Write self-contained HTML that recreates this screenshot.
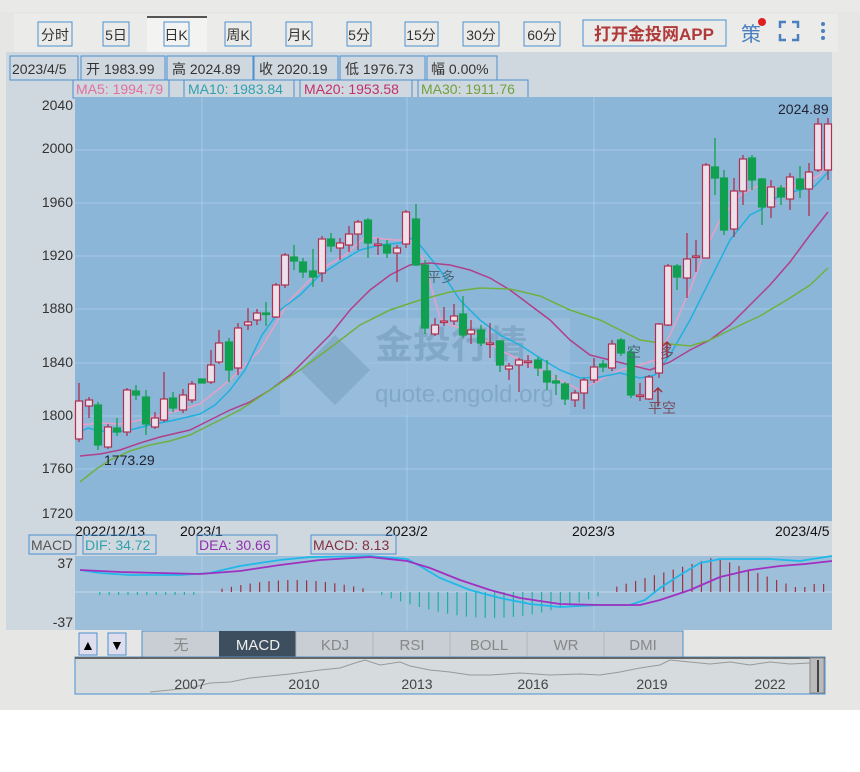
<!DOCTYPE html>
<html><head><meta charset="utf-8"><style>
body{margin:0;width:860px;height:767px;background:#fff;overflow:hidden;font-family:"Liberation Sans","Noto Sans CJK SC",sans-serif}
svg text{font-family:"Liberation Sans","Noto Sans CJK SC",sans-serif}
</style></head><body>
<svg id="s" width="860" height="767" xmlns="http://www.w3.org/2000/svg">
<rect width="860" height="710" fill="#e6e6e4"/>
<rect x="0" y="0" width="860" height="12" fill="#e9e9e7"/>
<rect x="14" y="14" width="824" height="38" fill="#ebebe9"/>
<rect x="147" y="17" width="60" height="35" fill="#f3f3f1"/>
<rect x="147" y="16" width="60" height="2" fill="#555"/>
<g font-size="14" fill="#333" text-anchor="middle" stroke-width="1">
<g fill="none" stroke="#4a90d0">
<rect x="38" y="22" width="34" height="24"/><rect x="103" y="22" width="26" height="24"/>
<rect x="164" y="22" width="25" height="24"/><rect x="225" y="22" width="26" height="24"/>
<rect x="286" y="22" width="26" height="24"/><rect x="347" y="22" width="24" height="24"/>
<rect x="405" y="22" width="33" height="24"/><rect x="463" y="22" width="36" height="24"/>
<rect x="524" y="22" width="36" height="24"/><rect x="583" y="20" width="143" height="26"/>
</g>
<text x="55" y="40">分时</text><text x="116" y="40">5日</text><text x="176" y="40">日K</text>
<text x="238" y="40">周K</text><text x="299" y="40">月K</text><text x="359" y="40">5分</text>
<text x="421" y="40">15分</text><text x="481" y="40">30分</text><text x="542" y="40">60分</text>
<text x="654" y="40" font-size="17" font-weight="bold" fill="#b03a3a">打开金投网APP</text>
<text x="751" y="41" font-size="20" fill="#4a80c0">策</text>
</g>
<circle cx="762" cy="22" r="4" fill="#e02020"/>
<g stroke="#4a80c0" stroke-width="2.5" fill="none">
<path d="M780 28v-6h6M792 22h6v6M798 34v6h-6M786 40h-6v-6"/></g>
<g fill="#4a80c0"><circle cx="823" cy="24" r="2"/><circle cx="823" cy="31" r="2"/><circle cx="823" cy="38" r="2"/></g>

<rect x="6" y="52" width="826" height="578" fill="#d0d8df"/>
<g font-size="14" fill="#333">
<g fill="none" stroke="#4a90d0">
<rect x="10" y="56" width="68" height="24"/><rect x="81" y="56" width="84" height="24"/>
<rect x="167" y="56" width="86" height="24"/><rect x="254" y="56" width="84" height="24"/>
<rect x="340" y="56" width="85" height="24"/><rect x="427" y="56" width="70" height="24"/>
<rect x="73" y="80" width="96" height="18"/><rect x="184" y="80" width="110" height="18"/>
<rect x="300" y="80" width="112" height="18"/><rect x="418" y="80" width="110" height="18"/>
</g>
<text x="12" y="74">2023/4/5</text><text x="86" y="74">开 1983.99</text><text x="172" y="74">高 2024.89</text>
<text x="259" y="74">收 2020.19</text><text x="345" y="74">低 1976.73</text><text x="431" y="74">幅 0.00%</text>
<text x="76" y="94" fill="#e070a0">MA5: 1994.79</text><text x="188" y="94" fill="#30a0b0">MA10: 1983.84</text>
<text x="304" y="94" fill="#c03070">MA20: 1953.58</text><text x="421" y="94" fill="#70a040">MA30: 1911.76</text>
</g>
<rect x="75" y="97" width="757" height="424" fill="#8cb6d8"/>
<g id="grid" stroke="#a8c8e4" stroke-width="1"></g>
<rect x="280" y="318" width="290" height="97" fill="#9cc0de" opacity="0.7"/>
<text x="375" y="358" font-size="38" fill="#82a8c8" font-weight="bold">金投行情</text>
<text x="375" y="402" font-size="24" fill="#82a8c8">quote.cngold.org</text>
<path d="M300 370l35-35 35 35-35 35z" fill="#7aa0c0" opacity="0.6"/>
<g id="ma" fill="none" stroke-width="1.5"></g>
<g id="cd"></g>
<g font-size="14" fill="#333" text-anchor="end">
<text x="73" y="110">2040</text><text x="73" y="153">2000</text><text x="73" y="207">1960</text>
<text x="73" y="260">1920</text><text x="73" y="313">1880</text><text x="73" y="367">1840</text>
<text x="73" y="420">1800</text><text x="73" y="473">1760</text><text x="73" y="518">1720</text>
</g>
<text x="104" y="465" font-size="14" fill="#223">1773.29</text>
<text x="778" y="114" font-size="14" fill="#223">2024.89</text>
<g font-size="14" fill="#7a5060"><text x="427" y="282" fill="#4a6a7a">平多</text><text x="627" y="357" fill="#4a6a7a">空</text><text x="660" y="358">多</text><text x="648" y="413">平空</text></g>
<g stroke="#a03040" stroke-width="1.5" fill="none"><path d="M658 406v-18M654 392l4-4 4 4M667 357v-15M663 346l4-4 4 4"/></g>
<g font-size="14" fill="#111" font-weight="normal">
<text x="75" y="536">2022/12/13</text><text x="180" y="536">2023/1</text><text x="385" y="536">2023/2</text>
<text x="572" y="536">2023/3</text><text x="775" y="536">2023/4/5</text></g>
<g font-size="14"><g fill="none" stroke="#4a90d0"><rect x="29" y="535" width="47" height="19"/><rect x="83" y="535" width="73" height="19"/><rect x="197" y="535" width="80" height="19"/><rect x="311" y="535" width="85" height="19"/></g>
<text x="31" y="550" fill="#555">MACD</text><text x="85" y="550" fill="#30a0b0">DIF: 34.72</text><text x="199" y="550" fill="#9030b0">DEA: 30.66</text><text x="313" y="550" fill="#803040">MACD: 8.13</text></g>
<rect x="75" y="556" width="757" height="74" fill="#9ebfda"/>
<line x1="75" y1="592" x2="832" y2="592" stroke="#c0d6e8"/>
<line x1="202" y1="556" x2="202" y2="630" stroke="#b0cce4"/><line x1="407" y1="556" x2="407" y2="630" stroke="#b0cce4"/><line x1="594" y1="556" x2="594" y2="630" stroke="#b0cce4"/>
<g id="hist"></g>
<g font-size="14" fill="#333" text-anchor="end"><text x="73" y="568">37</text><text x="73" y="627">-37</text></g>
<polyline fill="none" stroke="#20b8e8" stroke-width="1.8" points="80,570 100,573 130,575 180,575 210,573 240,566 280,560 310,557 370,556 407,559 420,566 440,578 470,590 500,598 530,604 560,607 600,605 630,605 645,600 660,588 680,575 700,563 720,559 770,559 800,561 832,556"/>
<polyline fill="none" stroke="#a030c0" stroke-width="1.8" points="80,570 120,572 160,573 200,574 240,571 280,565 320,560 370,557 407,561 430,568 460,580 490,590 520,598 560,604 600,605 640,605 660,600 690,590 720,577 750,570 780,566 805,564 832,561"/>
<rect x="0" y="630" width="860" height="80" fill="#e6e6e4"/>
<rect x="79" y="633" width="18" height="22" fill="#dde" stroke="#4a90d0"/><text x="81" y="650" font-size="14">▲</text>
<rect x="108" y="633" width="18" height="22" fill="#dde" stroke="#4a90d0"/><text x="110" y="650" font-size="14">▼</text>
<rect x="142" y="631" width="541" height="26" fill="#c8ced3" stroke="#4a90d0"/>
<rect x="219" y="631" width="77" height="26" fill="#3d4e5e"/>
<g stroke="#b0b8be"><line x1="296" y1="631" x2="296" y2="657"/><line x1="373" y1="631" x2="373" y2="657"/><line x1="450" y1="631" x2="450" y2="657"/><line x1="527" y1="631" x2="527" y2="657"/><line x1="604" y1="631" x2="604" y2="657"/></g>
<g font-size="15" fill="#888" text-anchor="middle"><text x="181" y="650">无</text><text x="258" y="650" fill="#eee">MACD</text><text x="335" y="650">KDJ</text><text x="412" y="650">RSI</text><text x="489" y="650">BOLL</text><text x="566" y="650">WR</text><text x="643" y="650">DMI</text></g>
<rect x="75" y="657" width="750" height="37" fill="#d6dbde" stroke="#4a90d0"/>
<line x1="75" y1="658" x2="825" y2="658" stroke="#666" stroke-width="2"/>
<polyline fill="none" stroke="#999" points="150,692 170,690 190,688 210,683 230,682 250,678 270,676 290,674 320,670 340,668 355,663 365,660 380,665 400,662 410,666 430,670 450,672 470,675 490,675 520,673 550,675 580,674 600,675 620,672 640,668 660,665 670,660 690,662 710,664 730,662 750,665 770,662 790,664 810,663"/>
<rect x="810" y="658" width="14" height="35" fill="#bbb" stroke="#888"/><line x1="818" y1="660" x2="818" y2="692" stroke="#444" stroke-width="2"/>
<g font-size="14" fill="#444" text-anchor="middle"><text x="190" y="689">2007</text><text x="304" y="689">2010</text><text x="417" y="689">2013</text><text x="533" y="689">2016</text><text x="652" y="689">2019</text><text x="770" y="689">2022</text></g>
</svg>
<script>
var N="http://www.w3.org/2000/svg";
function el(p,t,a){var e=document.createElementNS(N,t);for(var k in a)e.setAttribute(k,a[k]);document.getElementById(p).appendChild(e);}
[150,203,256,309,363,416,469].forEach(function(y){el("grid","line",{x1:75,x2:832,y1:y,y2:y});});
[202,407,594].forEach(function(x){el("grid","line",{x1:x,x2:x,y1:97,y2:521});});
// x, o, c, h, l  (pixel y); up if c<o
var C=[[79,439,401,383,442],[89,406,400,397,418],[98,405,445,402,450],[108,447,427,424,449],[117,428,432,418,436],[127,432,390,388,436],[136,391,395,385,400],[146,397,424,390,435],[155,427,418,412,429],[164,420,399,372,422],[173,398,408,392,412],[183,410,395,389,413],[192,400,384,381,403],[202,379,383,379,383],[211,382,365,350,384],[219,362,343,330,364],[229,342,370,338,382],[238,368,328,323,375],[248,325,322,308,330],[257,320,313,309,325],[266,313,314,302,326],[276,317,285,283,318],[285,285,255,253,288],[294,257,261,245,270],[303,262,272,258,278],[313,271,277,249,287],[322,273,239,236,282],[331,239,246,233,252],[340,248,243,238,260],[349,245,234,226,252],[358,234,222,220,250],[368,220,243,218,258],[378,244,244,238,255],[387,245,253,240,258],[397,253,248,245,282],[406,244,212,210,248],[416,219,265,204,266],[425,265,328,260,334],[435,334,325,318,336],[444,321,321,307,326],[454,321,316,304,325],[463,314,335,296,338],[471,334,330,320,344],[481,330,343,325,346],[490,343,343,323,358],[500,341,365,340,372],[509,369,366,363,380],[519,365,360,358,392],[528,361,361,355,368],[538,360,368,357,376],[547,371,382,360,390],[556,381,383,375,395],[565,384,399,382,405],[575,400,393,390,407],[584,393,380,378,409],[594,380,367,358,383],[603,364,367,360,372],[612,368,344,340,371],[621,340,353,338,356],[631,352,395,348,398],[640,395,395,383,401],[649,399,377,375,400],[659,373,324,323,378],[668,325,266,264,326],[677,266,277,264,290],[687,278,259,233,298],[696,256,256,240,272],[706,258,165,163,258],[715,167,178,138,195],[724,178,230,170,235],[734,229,191,178,237],[743,191,159,155,205],[752,158,180,155,190],[762,179,207,178,225],[771,207,187,180,218],[781,188,197,185,205],[790,199,177,173,210],[800,179,189,166,198],[809,189,172,163,216],[818,170,124,118,172],[828,170,124,118,180]];
C.forEach(function(d){var x=d[0],o=d[1],c=d[2],h=d[3],l=d[4],up=c<=o;var col=up?"#b03050":"#10a050";
el("cd","line",{x1:x,x2:x,y1:h,y2:l,stroke:col,"stroke-width":1.3});
var t=Math.min(o,c),b=Math.max(Math.abs(o-c),1.5);
el("cd","rect",{x:x-3.5,y:t,width:7,height:b,fill:up?"#ece0ea":col,stroke:col,"stroke-width":1.2});});
var M={"#e8a0c8":"80,425 100,423 120,424 150,418 180,410 200,404 230,380 260,350 290,300 320,270 345,255 365,237 395,240 410,240 425,262 432,290 440,318 450,325 470,330 500,350 530,365 560,380 580,390 600,380 620,370 640,365 655,360 670,335 690,290 705,250 720,220 740,195 760,185 780,188 800,185 820,175 828,160",
"#20b0e0":"80,432 88,428 100,431 115,432 130,430 150,425 175,420 200,414 215,405 230,390 245,370 262,335 280,310 300,295 320,275 340,262 360,250 380,245 400,243 410,238 420,245 440,270 460,300 480,320 500,335 520,345 540,358 560,370 580,378 600,377 620,373 640,378 655,375 670,355 690,320 710,280 730,240 750,215 760,210 780,195 800,190 815,186 828,172",
"#b0408a":"80,456 100,454 120,450 140,443 160,437 190,430 210,420 230,410 250,402 270,390 290,375 310,355 330,335 350,310 370,290 390,275 410,265 430,263 450,265 470,270 490,278 510,290 530,305 550,320 570,340 590,355 610,360 630,365 650,370 670,362 690,350 710,340 730,325 750,305 770,285 790,262 810,235 828,212",
"#70b040":"80,482 95,470 110,460 130,451 150,445 170,441 190,435 210,425 240,410 270,390 300,370 330,348 360,325 390,310 420,300 450,292 480,288 510,289 540,296 570,310 600,320 620,330 640,340 660,343 690,346 710,340 730,330 760,316 790,298 810,285 828,268"};
for(var k in M)el("ma","polyline",{points:M[k],stroke:k});
function hv(x){if(x<97)return 0;if(x<195)return -3;if(x<215)return 0;if(x<372)return 2+10*Math.sin(Math.PI*(x-215)/157);if(x<378)return 0;if(x<605)return -(2+24*Math.sin(Math.PI*(x-378)/227));if(x<612)return 0;
if(x<715)return 4+31*(x-612)/103;if(x<790)return 35-28*(x-715)/75;return 5+(x>810?3:0);}
for(var x=81;x<832;x+=9.4){var v=hv(x);if(v==0)continue;var up=v>0;el("hist","line",{x1:x,x2:x,y1:592,y2:592-v,stroke:up?"#a03040":"#20b0a0","stroke-width":1.2});}
</script>
</body></html>
